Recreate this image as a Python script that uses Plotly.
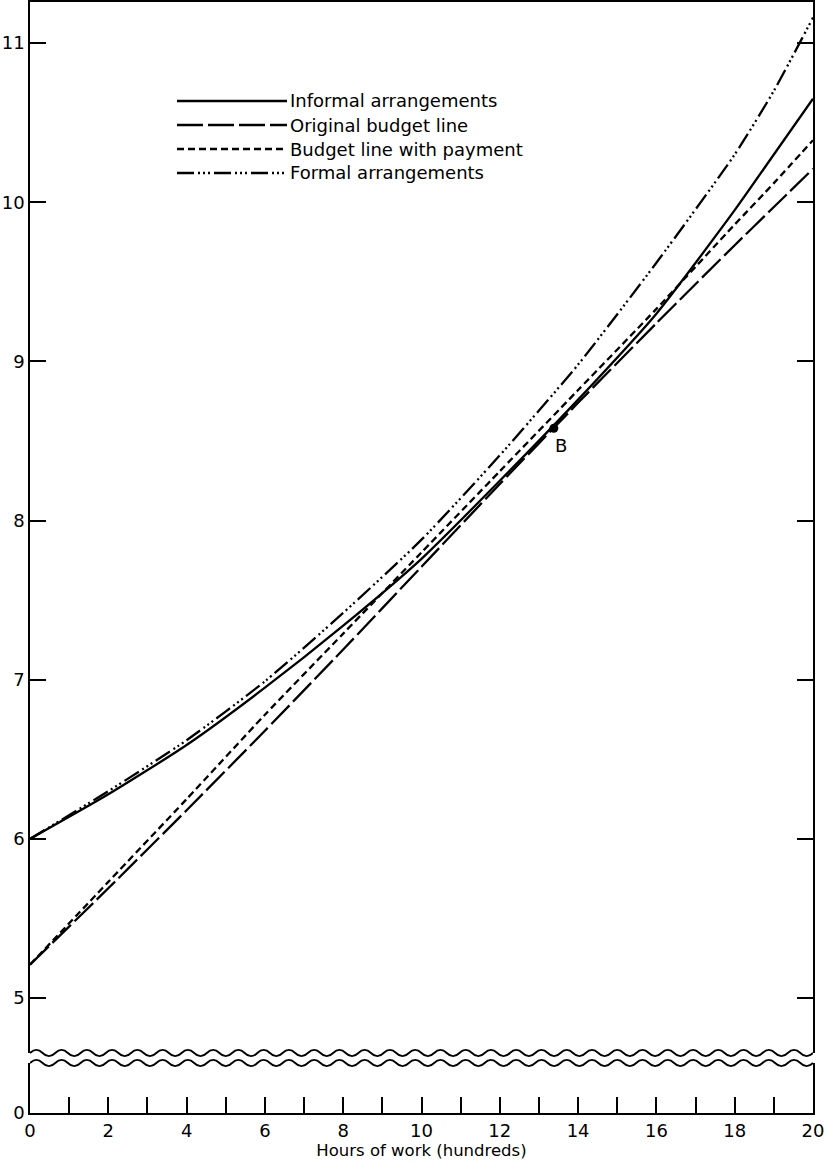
import plotly.graph_objects as go

# ---------------- data ----------------
hours = [0, 2, 4, 6, 8, 10, 12, 14, 16, 18, 19, 20]
informal = [6.00, 6.28, 6.59, 6.95, 7.34, 7.76, 8.25, 8.76, 9.30, 9.95, 10.30, 10.65]
original_budget = [5.21, 5.69, 6.18, 6.68, 7.19, 7.71, 8.23, 8.74, 9.24, 9.73, 9.97, 10.21]
budget_payment = [5.21, 5.73, 6.25, 6.78, 7.29, 7.80, 8.31, 8.82, 9.33, 9.86, 10.12, 10.39]
formal = [6.00, 6.30, 6.62, 6.99, 7.42, 7.88, 8.41, 8.98, 9.62, 10.30, 10.70, 11.16]

point_b_x = [13.38]
point_b_y = [8.58]
point_b_label = "B"

series_names = ["Informal arrangements", "Original budget line",
                "Budget line with payment", "Formal arrangements"]
x_tick_vals = list(range(0, 21))
x_tick_text = [str(v) if v % 2 == 0 else "" for v in x_tick_vals]
y_tick_vals = [5, 6, 7, 8, 9, 10, 11]
x_title = "Hours of work (hundreds)"

# ---------------- styles ----------------
FONT = "DejaVu Sans"
LW = 2.3
dashes = ["solid", "26px,5px", "7px,4px", "17px,4px,2px,3px,2px,3px,2px,4px"]
series_values = [informal, original_budget, budget_payment, formal]

fig = go.Figure()
for name, vals, dash in zip(series_names, series_values, dashes):
    fig.add_trace(go.Scatter(x=hours, y=vals, mode="lines", name=name,
                             line=dict(color="black", width=LW, dash=dash, shape="spline", smoothing=0.6),
                             showlegend=False, xaxis="x", yaxis="y"))

fig.add_trace(go.Scatter(x=point_b_x, y=point_b_y, mode="markers",
                         marker=dict(color="black", size=9),
                         showlegend=False, xaxis="x", yaxis="y"))

# empty trace to realise the lower (broken-axis) panel
fig.add_trace(go.Scatter(x=[None], y=[None], mode="lines", showlegend=False,
                         xaxis="x2", yaxis="y2"))

H_PLOT = 1163 - 2 - 50
top_low = (1113 - 1053) / H_PLOT
bot_high = (1113 - 1063) / H_PLOT

axis_common = dict(linecolor="black", linewidth=1.6, showgrid=False, zeroline=False,
                   tickcolor="black", tickwidth=1.6, automargin=False,
                   tickfont=dict(family=FONT, size=18, color="black"))

fig.update_layout(
    width=836, height=1163,
    margin=dict(l=30, r=23, t=2, b=50, autoexpand=False),
    paper_bgcolor="white", plot_bgcolor="white",
    showlegend=False,
    xaxis=dict(axis_common, domain=[0, 1], range=[0, 20], anchor="y", side="top",
               showline=True, ticks="", showticklabels=False),
    yaxis=dict(axis_common, domain=[top_low, 1], range=[4.655, 11.258], anchor="x",
               showline=True, mirror="ticks", ticks="inside", ticklen=16,
               tickvals=y_tick_vals),
    xaxis2=dict(axis_common, domain=[0, 1], range=[0, 20], anchor="y2", matches="x",
                showline=True, linewidth=2.2, ticks="inside", ticklen=16,
                tickvals=x_tick_vals, ticktext=x_tick_text,
                title=dict(text=x_title, font=dict(family=FONT, size=16.5, color="black"), standoff=0)),
    yaxis2=dict(axis_common, domain=[0, bot_high], range=[0, 50 / 159.2], anchor="x2",
                showline=True, mirror=True, ticks="", tickvals=[0], ticktext=["0"]),
)

# ---------------- wavy break lines ----------------
shapes = []
n_waves = 31
period = 20 / n_waves
amp = 3.2 / H_PLOT
for ybase in (top_low, bot_high):
    path = f"M 0,{ybase}"
    for i in range(n_waves):
        x0 = i * period
        xm1 = x0 + period / 4
        xh = x0 + period / 2
        xm2 = x0 + 3 * period / 4
        xe = x0 + period
        path += f" Q {xm1},{ybase + 2*amp} {xh},{ybase} Q {xm2},{ybase - 2*amp} {xe},{ybase}"
    shapes.append(dict(type="path", path=path, xref="x", yref="paper",
                       line=dict(color="black", width=1.8)))

# ---------------- legend (drawn) ----------------
leg_x0 = (177 - 30) / 783
leg_x1 = (287 - 30) / 783
leg_rows = [101, 125, 149, 173]
annotations = []
for name, dash, ypx in zip(series_names, dashes, leg_rows):
    yp = (1113 - ypx) / H_PLOT
    shapes.append(dict(type="line", xref="paper", yref="paper", x0=leg_x0, x1=leg_x1, y0=yp, y1=yp,
                       line=dict(color="black", width=LW, dash=dash)))
    annotations.append(dict(xref="paper", yref="paper", x=leg_x1 + 0.001, y=yp, text=name,
                            showarrow=False, xanchor="left", yanchor="middle",
                            font=dict(family=FONT, size=18, color="black")))

annotations.append(dict(xref="x", yref="y", x=point_b_x[0], y=point_b_y[0], text=point_b_label,
                        showarrow=False, xanchor="center", yanchor="middle", xshift=7, yshift=-17,
                        font=dict(family=FONT, size=18, color="black")))

fig.update_layout(shapes=shapes, annotations=annotations)

fig.write_html("out.html", config={"displayModeBar": False},
               post_script="document.body.style.margin='0';document.body.style.overflow='hidden';")
